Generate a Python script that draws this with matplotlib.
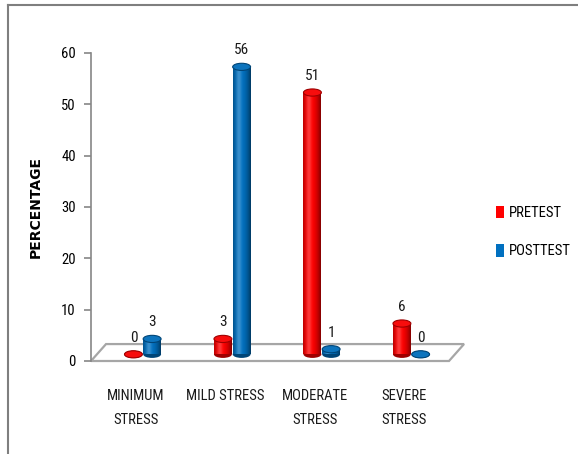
import numpy as np
import matplotlib.pyplot as plt
from matplotlib.patches import Ellipse, Polygon, Patch
from matplotlib.lines import Line2D
from matplotlib.colors import to_rgb

# data
categories = ['MINIMUM\nSTRESS', 'MILD STRESS', 'MODERATE\nSTRESS', 'SEVERE\nSTRESS']
pretest = [0, 3, 51, 6]
posttest = [3, 56, 1, 0]
series_names = ['PRETEST', 'POSTTEST']
colors = ['#FF0000', '#0070C0']
yticks = [0, 10, 20, 30, 40, 50, 60]

narrow = ['Roboto Condensed', 'DejaVu Sans Condensed', 'Liberation Sans Narrow', 'Lato', 'DejaVu Sans']
fs = 10.5
grey = '#868686'

fig = plt.figure(figsize=(5.78, 4.54), dpi=100)
ax = fig.add_axes([91 / 578, 1 - 361 / 454, 358 / 578, 308 / 454])
ax.set_xlim(-0.5, 3.5)
ax.set_ylim(0, 60)

# 3d floor (depth offsets)
dx, dy = 0.168, 3.3
floor = Polygon([(-0.5, 0), (3.5, 0), (3.5 + dx, dy), (-0.5 + dx, dy)],
                closed=True, facecolor='white', edgecolor='#A6A6A6', lw=1.6,
                clip_on=False, zorder=1)
ax.add_patch(floor)

base = 1.3      # bars stand in the middle of the floor
bw = 0.2
caph = 1.4
offsets = [-0.026, 0.183]


def cylinder(x, value, color):
    rgb = np.array(to_rgb(color))
    dark = rgb * 0.62
    n = 18
    edges = np.linspace(x - bw / 2, x + bw / 2, n + 1)
    for k in range(n):
        t = (edges[k] + edges[k + 1]) / 2 - x
        t = t / (bw / 2)
        shade = 1 - 0.38 * (abs(t + 0.15) ** 2)
        c = rgb * shade
        hl = 0.22 * np.exp(-((t + 0.35) / 0.3) ** 2)
        c = np.clip(c * (1 - hl) + hl, 0, 1)
        if value > 0:
            ax.bar(edges[k], value, width=edges[k + 1] - edges[k], bottom=base,
                   align='edge', color=c, lw=0, zorder=3)
    ax.add_patch(Ellipse((x, base), bw, caph, facecolor=dark, edgecolor='none', zorder=2.5))
    top = Ellipse((x, base + value), bw, caph, facecolor=np.clip(rgb * 0.92 + 0.05, 0, 1),
                  edgecolor=dark, lw=0.8, zorder=4)
    ax.add_patch(top)
    ax.annotate(str(value), (x, base + value + caph / 2), xytext=(0, 6.5),
                textcoords='offset points', ha='center', va='baseline',
                fontsize=fs + 0.5, family=narrow, color='#1a1a1a', zorder=5)


for series, off, col in zip([pretest, posttest], offsets, colors):
    for i, v in enumerate(series):
        cylinder(i + off, v, col)

# axes styling
for s in ['top', 'right', 'bottom']:
    ax.spines[s].set_visible(False)
ax.spines['left'].set_color(grey)
ax.spines['left'].set_linewidth(1.2)
ax.set_yticks(yticks)
ax.tick_params(axis='y', length=5, width=1.2, color=grey, pad=6, labelsize=fs)
for lab in ax.get_yticklabels():
    lab.set_family(narrow)
ax.set_xticks(range(len(categories)))
ax.set_xticklabels(categories, fontsize=fs, family=narrow, linespacing=1.95, color='#1a1a1a')
ax.tick_params(axis='x', length=0, pad=20)

fig.text(36 / 578, 1 - 207 / 454, 'PERCENTAGE', rotation=90, ha='center', va='center',
         fontsize=10, fontweight='bold', family='DejaVu Sans')

handles = [Patch(facecolor=c) for c in colors]
ax.legend(handles, series_names, loc='center left', bbox_to_anchor=(496 / 578, 1 - 232 / 454),
          bbox_transform=fig.transFigure, frameon=False, handlelength=0.55, handleheight=0.9,
          handletextpad=0.35, labelspacing=1.7, borderpad=0, borderaxespad=0,
          prop={'family': narrow, 'size': fs})

# chart border (top and left edges visible)
fig.add_artist(Line2D([8 / 578, 8 / 578], [0, 1 - 5 / 454], color='#7F7F7F', lw=1.5))
fig.add_artist(Line2D([8 / 578, 1], [1 - 5 / 454, 1 - 5 / 454], color='#7F7F7F', lw=1.5))

fig.savefig('out.png', dpi=100)
